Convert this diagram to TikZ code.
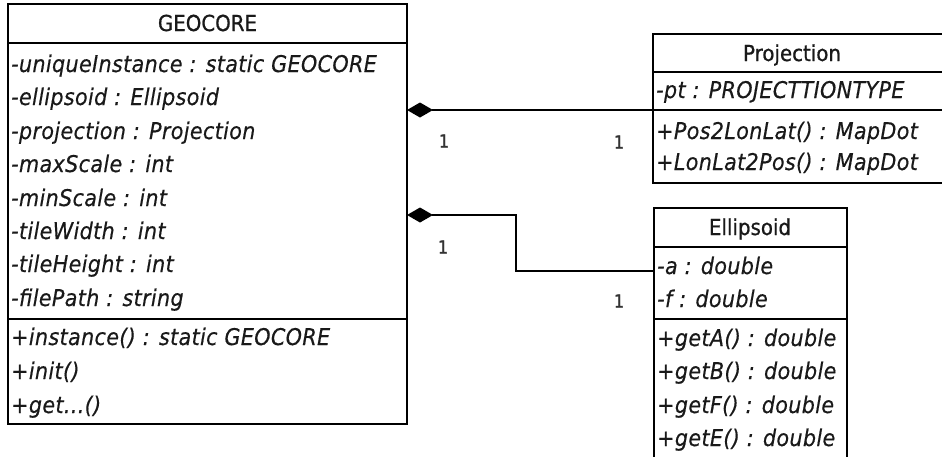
\documentclass[tikz,border=0pt]{standalone}
\usepackage{fontspec}
\setmainfont{DejaVu Sans}
\newfontfamily\umlfont[FakeStretch=0.9, LetterSpace=1.5, FakeBold=0.4]{DejaVu Sans}
\newfontfamily\umltitlefont[FakeStretch=0.9, FakeBold=0.8]{DejaVu Sans}
\newfontfamily\umlmultfont[FakeStretch=0.9, FakeBold=1.2]{DejaVu Sans}
\usetikzlibrary{arrows.meta}

\newcommand{\classnamefont}{\umltitlefont\fontsize{22}{26}\selectfont}
\newcommand{\memberfont}{\umlfont\itshape\fontsize{23}{27}\selectfont}
\newcommand{\multfont}{\umlmultfont\fontsize{18}{21}\selectfont}

\tikzset{
  compart/.style={draw, line width=1.3pt, anchor=north west,
    inner sep=0pt, outer sep=0pt},
  classname/.style={anchor=base, inner sep=0pt, font=\classnamefont, text=black!90},
  member/.style={anchor=base west, inner sep=0pt, font=\memberfont, text=black!90},
  mult/.style={inner sep=0pt, font=\multfont, text=black!80},
  composition/.style={line width=1.3pt,
    {Diamond[length=26pt, width=15pt]}-},
}

\begin{document}
\begin{tikzpicture}[x=1pt, y=-1pt]
\useasboundingbox (0,0) rectangle (942,456);
\clip (0,0) rectangle (942,456);

% ---------- GEOCORE ----------
\node[compart, minimum width=399pt, minimum height=39pt]  (geo-title) at (8,4) {};
\node[compart, minimum width=399pt, minimum height=276pt] (geo-attr)  at (8,43) {};
\node[compart, minimum width=399pt, minimum height=105pt] (geo-ops)   at (8,319) {};
\node[classname] (geo-name) at (207.5,31) {GEOCORE};
\node[member] (geo-a1) at (11,72)  {-uniqueInstance : static GEOCORE};
\node[member] (geo-a2) at (11,105) {-ellipsoid : Ellipsoid};
\node[member] (geo-a3) at (11,139) {-projection : Projection};
\node[member] (geo-a4) at (11,172) {-maxScale : int};
\node[member] (geo-a5) at (11,206) {-minScale : int};
\node[member] (geo-a6) at (11,239) {-tileWidth : int};
\node[member] (geo-a7) at (11,272) {-tileHeight : int};
\node[member] (geo-a8) at (11,306) {-filePath : string};
\node[member] (geo-o1) at (11,345) {+instance() : static GEOCORE};
\node[member] (geo-o2) at (11,379) {+init()};
\node[member] (geo-o3) at (11,413) {+get...()};

% ---------- Projection ----------
\node[compart, minimum width=293pt, minimum height=38pt] (proj-title) at (653,34) {};
\node[compart, minimum width=293pt, minimum height=38pt] (proj-attr)  at (653,72) {};
\node[compart, minimum width=293pt, minimum height=73pt] (proj-ops)   at (653,110) {};
\node[classname] (proj-name) at (792,61) {Projection};
\node[member] (proj-a1) at (656,98)  {-pt : PROJECTTIONTYPE};
\node[member] (proj-o1) at (656,139) {+Pos2LonLat() : MapDot};
\node[member] (proj-o2) at (656,170) {+LonLat2Pos() : MapDot};

% ---------- Ellipsoid ----------
\node[compart, minimum width=193pt, minimum height=39pt]  (ell-title) at (654,208) {};
\node[compart, minimum width=193pt, minimum height=72pt]  (ell-attr)  at (654,247) {};
\node[compart, minimum width=193pt, minimum height=145pt] (ell-ops)   at (654,319) {};
\node[classname] (ell-name) at (750,235) {Ellipsoid};
\node[member] (ell-a1) at (657,274) {-a : double};
\node[member] (ell-a2) at (657,307) {-f : double};
\node[member] (ell-o1) at (657,346) {+getA() : double};
\node[member] (ell-o2) at (657,379) {+getB() : double};
\node[member] (ell-o3) at (657,413) {+getF() : double};
\node[member] (ell-o4) at (657,446) {+getE() : double};

% ---------- compositions ----------
\draw[composition] (geo-attr.east |- proj-ops.north) -- (proj-ops.north west);
\node[mult] (m1) at (444,141) {1};
\node[mult] (m2) at (619,142) {1};

\coordinate (ell-bend) at (516,215);
\coordinate (ell-port) at (654,271);
\draw[composition] (geo-attr.east |- ell-bend) -- (ell-bend) |- (ell-port);
\node[mult] (m3) at (443,247) {1};
\node[mult] (m4) at (619,301) {1};
\end{tikzpicture}
\end{document}
